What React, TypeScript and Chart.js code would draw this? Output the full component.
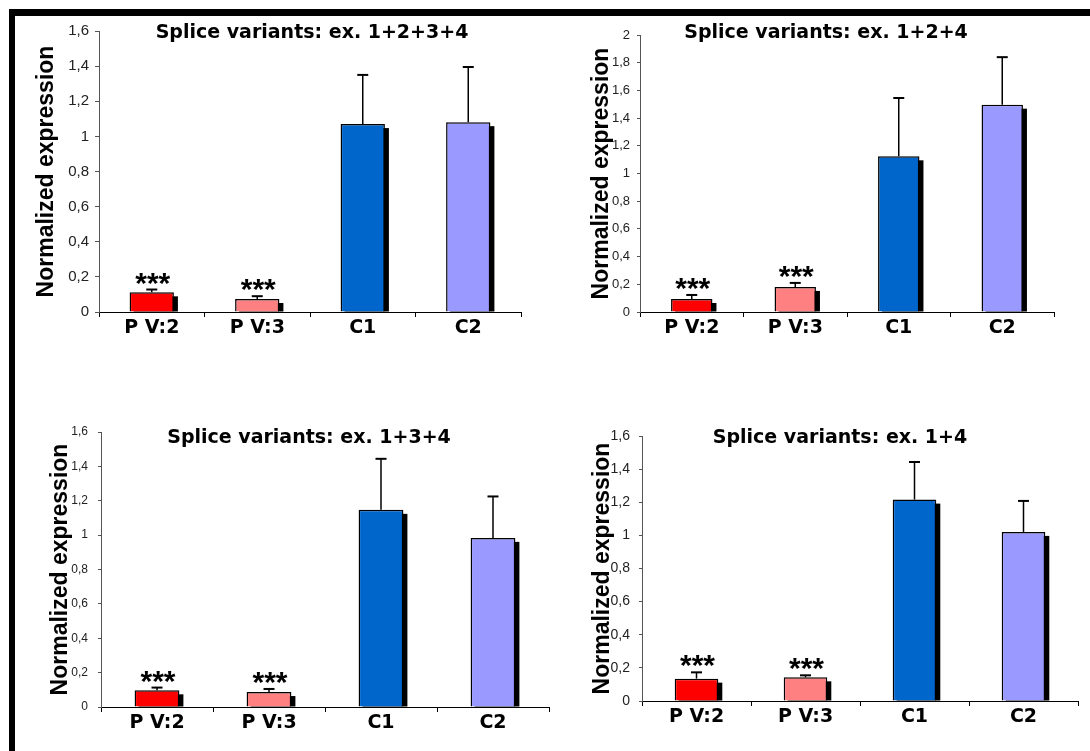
import { useEffect, useRef } from "react";
import { Chart, registerables } from "chart.js";

Chart.register(...registerables);

// ---- data ---------------------------------------------------------------
const groups = ["P V:2", "P V:3", "C1", "C2"];
const groupColors = ["#ff0000", "#ff8080", "#0066cc", "#9999ff"];
const significance = ["***", "***", "", ""];

const titles = [
  "Splice variants: ex. 1+2+3+4",
  "Splice variants: ex. 1+2+4",
  "Splice variants: ex. 1+3+4",
  "Splice variants: ex. 1+4",
];

// mean normalized expression and upper error (SD) per group
const means1234 = [0.112, 0.074, 1.07, 1.081];
const errors1234 = [0.016, 0.016, 0.28, 0.314];
const means124 = [0.094, 0.181, 1.124, 1.497];
const errors124 = [0.029, 0.029, 0.421, 0.343];
const means134 = [0.097, 0.087, 1.147, 0.984];
const errors134 = [0.016, 0.018, 0.297, 0.241];
const means14 = [0.135, 0.143, 1.216, 1.021];
const errors14 = [0.038, 0.012, 0.227, 0.187];

const axisMax = [1.6, 2, 1.6, 1.6];
const axisStep = 0.2;
const yAxisTitle = "Normalized expression";

const seriesMeans = [means1234, means124, means134, means14];
const seriesErrors = [errors1234, errors124, errors134, errors14];

// ---- layout of the four panels (canvas position & plot geometry) --------
const panelLayout = [
  { left: 16, top: 16, width: 530, height: 336, padTop: 10, padRight: 25, yWidth: 83, tickSize: 15, tickLen: 4, tickPad: 6, yTitlePad: 17, bar: 0.42, titleX: 296, titleY: 17 },
  { left: 566, top: 16, width: 524, height: 336, padTop: 19, padRight: 36, yWidth: 74, tickSize: 13, tickLen: 3, tickPad: 7, yTitlePad: 22, bar: 0.4, titleX: 260, titleY: 17 },
  { left: 16, top: 390, width: 545, height: 357, padTop: 42, padRight: 12, yWidth: 85, tickSize: 12, tickLen: 3, tickPad: 10, yTitlePad: 31, bar: 0.4, titleX: 293, titleY: 48 },
  { left: 566, top: 390, width: 524, height: 351, padTop: 46, padRight: 12, yWidth: 76, tickSize: 14, tickLen: 3, tickPad: 9, yTitlePad: 23, bar: 0.4, titleX: 274, titleY: 48 },
];

const SANS = "'Liberation Sans', Arial, sans-serif";
const NARROW = "'Liberation Sans Narrow', 'Arial Narrow', 'Liberation Sans', sans-serif";
const WIDE_BOLD = "'DejaVu Sans', 'Liberation Sans', sans-serif";

const formatTick = (v: number | string) => {
  const n = Number(v);
  if (Math.abs(n - Math.round(n)) < 1e-9) return String(Math.round(n));
  return n.toFixed(1).replace(".", ",");
};

// Drop shadows behind bars, error bars with caps, significance stars, title
const panelDecor = {
  id: "panelDecor",
  beforeDatasetsDraw(chart: any, _args: any, opts: any) {
    const ctx = chart.ctx;
    const area = chart.chartArea;
    const meta = chart.getDatasetMeta(0);
    const off = opts.shadow;
    ctx.save();
    ctx.fillStyle = "#000";
    meta.data.forEach((bar: any) => {
      const { x, y, width, base } = bar.getProps(["x", "y", "width", "base"], true);
      const sy = y + off;
      const h = Math.min(base, area.bottom) - sy;
      if (h > 0) ctx.fillRect(x - width / 2 + off, sy, width, h);
    });
    ctx.restore();
  },
  afterDatasetsDraw(chart: any, _args: any, opts: any) {
    const ctx = chart.ctx;
    const yScale = chart.scales.y;
    const meta = chart.getDatasetMeta(0);
    const values = chart.data.datasets[0].data as number[];
    ctx.save();
    ctx.strokeStyle = "#000";
    ctx.fillStyle = "#000";
    meta.data.forEach((bar: any, i: number) => {
      const { x, y } = bar.getProps(["x", "y"], true);
      const top = yScale.getPixelForValue(values[i] + opts.errors[i]);
      ctx.lineWidth = 1.5;
      ctx.beginPath();
      ctx.moveTo(x, y);
      ctx.lineTo(x, top);
      ctx.stroke();
      ctx.lineWidth = 2;
      ctx.beginPath();
      ctx.moveTo(x - 5.5, top);
      ctx.lineTo(x + 5.5, top);
      ctx.stroke();
      const mark = opts.marks[i];
      if (mark) {
        ctx.font = `bold 30px ${SANS}`;
        ctx.textAlign = "center";
        ctx.textBaseline = "alphabetic";
        const m = ctx.measureText(mark);
        const centerY = top - 11;
        const baseline = centerY + (m.actualBoundingBoxAscent - m.actualBoundingBoxDescent) / 2;
        ctx.fillText(mark, x + 1, baseline);
      }
    });
    ctx.restore();
  },
  afterDraw(chart: any, _args: any, opts: any) {
    const ctx = chart.ctx;
    ctx.save();
    ctx.fillStyle = "#000";
    ctx.font = `bold 19px ${WIDE_BOLD}`;
    ctx.textAlign = "center";
    ctx.textBaseline = "middle";
    ctx.fillText(opts.title, opts.titleX, opts.titleY);
    ctx.restore();
  },
};

function Panel({ index }: { index: number }) {
  const ref = useRef<HTMLCanvasElement | null>(null);
  const lay = panelLayout[index];

  useEffect(() => {
    if (!ref.current) return;
    const chart = new Chart(ref.current, {
      type: "bar",
      data: {
        labels: groups,
        datasets: [
          {
            data: seriesMeans[index],
            backgroundColor: groupColors,
            borderColor: "#000",
            borderWidth: 1.5,
            barPercentage: lay.bar,
            categoryPercentage: 1,
          },
        ],
      },
      plugins: [panelDecor],
      options: {
        responsive: false,
        animation: false,
        events: [],
        layout: { padding: { left: 0, top: lay.padTop, right: lay.padRight, bottom: 0 } },
        plugins: {
          legend: { display: false },
          tooltip: { enabled: false },
          panelDecor: {
            errors: seriesErrors[index],
            marks: significance,
            title: titles[index],
            titleX: lay.titleX,
            titleY: lay.titleY,
            shadow: 4,
          },
        } as any,
        scales: {
          x: {
            type: "category",
            offset: true,
            grid: {
              display: true,
              offset: true,
              drawOnChartArea: false,
              drawTicks: true,
              tickLength: 5,
              color: "#000",
            },
            border: { display: true, color: "#000", width: 1 },
            ticks: {
              color: "#000",
              padding: 0,
              maxRotation: 0,
              autoSkip: false,
              font: { family: WIDE_BOLD, size: 19, weight: "bold" },
            },
            afterFit: (scale: any) => {
              scale.height = 40;
            },
          },
          y: {
            min: 0,
            max: axisMax[index],
            grid: {
              display: true,
              drawOnChartArea: false,
              drawTicks: true,
              tickLength: lay.tickLen,
              color: "#555",
            },
            border: { display: true, color: "#555", width: 1 },
            ticks: {
              stepSize: axisStep,
              color: "#222",
              padding: lay.tickPad,
              font: { family: NARROW, size: lay.tickSize },
              callback: (v: any) => formatTick(v),
            },
            title: {
              display: true,
              text: yAxisTitle,
              color: "#000",
              font: { family: SANS, size: 23, weight: "bold" },
              padding: { top: lay.yTitlePad, bottom: 0 },
            },
            afterFit: (scale: any) => {
              scale.width = lay.yWidth;
            },
          },
        },
      } as any,
    });
    return () => chart.destroy();
  }, [index]);

  return (
    <canvas
      ref={ref}
      width={lay.width}
      height={lay.height}
      style={{ position: "absolute", left: lay.left, top: lay.top, width: lay.width, height: lay.height }}
    />
  );
}

export default function App() {
  return (
    <div
      style={{
        position: "absolute",
        left: 0,
        top: 0,
        width: 1090,
        height: 751,
        background: "#fff",
        overflow: "hidden",
      }}
    >
      <div style={{ position: "absolute", left: 9, top: 9, width: 1081, height: 7, background: "#000" }} />
      <div style={{ position: "absolute", left: 9, top: 9, width: 6, height: 742, background: "#000" }} />
      {panelLayout.map((_, i) => (
        <Panel key={i} index={i} />
      ))}
    </div>
  );
}
